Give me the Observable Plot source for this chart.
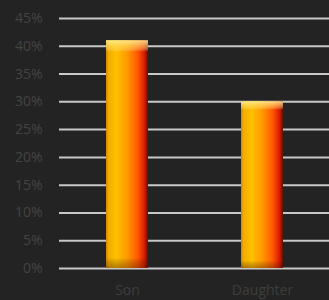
<!DOCTYPE html>
<html><head><meta charset="utf-8">
<script src="https://cdn.jsdelivr.net/npm/d3@7"></script>
<script src="https://cdn.jsdelivr.net/npm/@observablehq/plot@0.6"></script>
<style>
html,body{margin:0;padding:0;background:#232323;}
#chart{width:329px;height:300px;}
</style></head>
<body><div id="chart"></div>
<script>
const categories = ["Son", "Daughter"];
const values = [0.41, 0.30];
const yTicks = [0, 0.05, 0.10, 0.15, 0.20, 0.25, 0.30, 0.35, 0.40, 0.45];

const data = categories.map((c, i) => ({category: c, value: values[i]}));
const pct = d => Math.round(d * 100) + "%";

const chart = Plot.plot({
  width: 329,
  height: 300,
  marginLeft: 59,
  marginRight: 0,
  marginTop: 18,
  marginBottom: 32,
  style: {background: "#232323", fontFamily: "Open Sans, sans-serif", fontSize: "14px", color: "#444"},
  x: {domain: categories, paddingInner: 0.69, paddingOuter: 0.34, label: null},
  y: {domain: [0, 0.45], label: null},
  marks: [
    Plot.ruleY(yTicks, {stroke: "#c8c8c8", strokeWidth: 2}),
    Plot.barY(data, {x: "category", y: "value", fill: "url(#barGrad)"}),
    Plot.barY(data, {x: "category", y: "value", fill: "url(#bevelGrad)"}),
    Plot.axisY({ticks: yTicks, tickFormat: pct, tickSize: 0, tickPadding: 17, fill: "#444", fontSize: 14}),
    Plot.axisX({tickSize: 0, tickPadding: 17, fill: "#3e3e3e", fontSize: 14})
  ]
});

const ns = "http://www.w3.org/2000/svg";
const defs = document.createElementNS(ns, "defs");
defs.innerHTML = `
<linearGradient id="barGrad" x1="0" y1="0" x2="1" y2="0">
  <stop offset="0" stop-color="#c88a00"/>
  <stop offset="0.06" stop-color="#f2ac00"/>
  <stop offset="0.25" stop-color="#ffc000"/>
  <stop offset="0.5" stop-color="#ff9a00"/>
  <stop offset="0.75" stop-color="#ff5a00"/>
  <stop offset="0.9" stop-color="#e02000"/>
  <stop offset="0.97" stop-color="#901400"/>
  <stop offset="1" stop-color="#5a0c00"/>
</linearGradient>
<linearGradient id="bevelGrad" x1="0" y1="0" x2="0" y2="1">
  <stop offset="0" stop-color="#fff3a0" stop-opacity="0.85"/>
  <stop offset="0.035" stop-color="#ffe070" stop-opacity="0.45"/>
  <stop offset="0.05" stop-color="#ffffff" stop-opacity="0"/>
  <stop offset="0.955" stop-color="#000000" stop-opacity="0"/>
  <stop offset="1" stop-color="#4a1800" stop-opacity="0.4"/>
</linearGradient>`;
chart.insertBefore(defs, chart.firstChild);
document.getElementById("chart").appendChild(chart);
</script>
</body></html>
